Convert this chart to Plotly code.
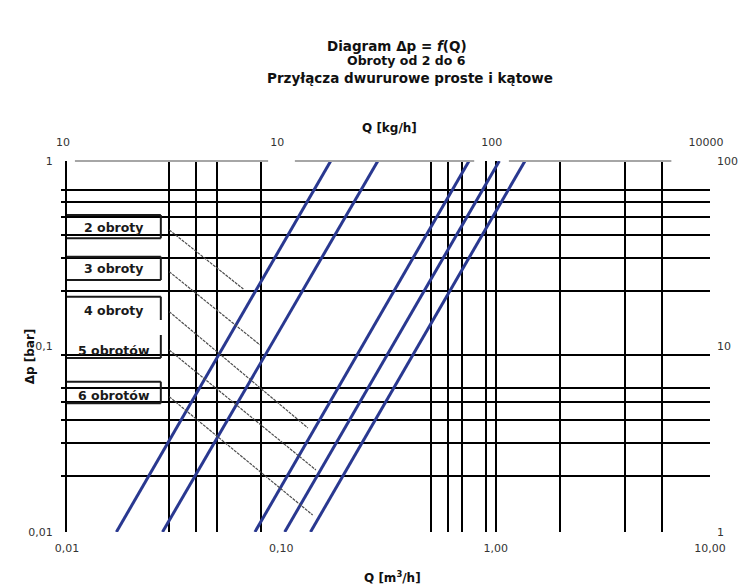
import plotly.graph_objects as go

# ---------------- data ----------------
# blue characteristic lines: flow at dp = 0.01 bar and at dp = 1 bar
dp_ends = [0.01, 1.0]
flow_low = [0.017, 0.0279, 0.0753, 0.1037, 0.1368]
flow_high = [0.170, 0.282, 0.751, 1.04, 1.37]

# thin guide lines for the number of turns (start/end flow, start/end dp)
turn_labels = ["2 obroty", "3 obroty", "4 obroty", "5 obrotów", "6 obrotów"]
guide_q_start = [0.03, 0.03, 0.03, 0.03, 0.03]
guide_q_end = [0.0665, 0.0795, 0.133, 0.145, 0.140]
guide_p_start = [0.425, 0.253, 0.154, 0.0957, 0.0536]
guide_p_end = [0.204, 0.102, 0.0364, 0.0216, 0.01235]

# grid lines
grid_q = [0.03, 0.04, 0.05, 0.08, 0.5, 0.6, 0.7, 0.9, 1.0, 2, 4, 6]
grid_p = [0.7, 0.6, 0.5, 0.4, 0.3, 0.2, 0.09, 0.06, 0.05, 0.04, 0.03, 0.02]

# tick labels
bottom_vals = [0.01, 0.1, 1, 10]
bottom_text = ["0,01", "0,10", "1,00", "10,00"]
top_text = ["10", "10", "100", "10000"]
left_vals = [1, 0.1, 0.01]
left_text = ["1", "0,1", "0,01"]
right_text = ["100", "10", "1"]

# ---------------- layout helpers ----------------
OFF = 8                      # page body margin of the html page
W, H = 750 - OFF, 588 - OFF
L, R, T, B = 67, 716, 161, 532   # plot area in window pixels
def fx(x):
    return (x - L) / (R - L)
def fy(y):
    return (B - y) / (B - T)

FONT = "DejaVu Sans"
BLUE = "#293890"

fig = go.Figure()

for ql, qh in zip(flow_low, flow_high):
    fig.add_trace(go.Scatter(x=[ql, qh], y=dp_ends, mode="lines",
                             line=dict(color=BLUE, width=3),
                             showlegend=False, hoverinfo="skip"))

for qs, qe, ps, pe in zip(guide_q_start, guide_q_end, guide_p_start, guide_p_end):
    fig.add_trace(go.Scatter(x=[qs, qe], y=[ps, pe], mode="lines",
                             line=dict(color="#4d4d4d", width=1.2, dash="3px,1px"),
                             showlegend=False, hoverinfo="skip"))

# invisible anchor trace for the secondary (top / right) axes
fig.add_trace(go.Scatter(x=[0.1], y=[0.1], xaxis="x2", yaxis="y2", mode="markers",
                         marker=dict(opacity=0), showlegend=False, hoverinfo="skip"))

shapes = []
# white boxes behind labels
for y0, y1 in [(215, 238.3), (256.7, 280), (296.7, 358), (381.7, 403.3)]:
    shapes.append(dict(type="rect", xref="paper", yref="paper",
                       x0=fx(68), x1=fx(161.7), y0=fy(y1), y1=fy(y0),
                       fillcolor="white", line=dict(width=0), layer="between"))

def seg(x0, y0, x1, y1, color="#1a1a1a", width=2, layer="above"):
    shapes.append(dict(type="line", xref="paper", yref="paper",
                       x0=fx(x0), y0=fy(y0), x1=fx(x1), y1=fy(y1),
                       line=dict(color=color, width=width), layer=layer))

bx = 161.7
for y0, y1 in [(215, 238.3), (256.7, 280), (381.7, 403.3)]:
    seg(L, y0, bx, y0)
    seg(bx, y0, bx, y1)
    seg(L, y1, bx, y1)
seg(L, 296.7, bx, 296.7)
seg(bx, 296.7, bx, 320)
seg(bx, 335, bx, 358)
seg(L, 358, bx, 358)

# grey top line with gaps
for x0, x1 in [(75, 270), (297, 478), (513, 677)]:
    seg(x0, T, x1, T, color="#a6a6a6", width=2)

annotations = []
for lab, yc in zip(turn_labels, [227, 268, 310, 350, 395]):
    annotations.append(dict(text="<b>%s</b>" % lab, xref="paper", yref="paper",
                            x=fx(114), y=fy(yc), showarrow=False,
                            xanchor="center", yanchor="middle",
                            font=dict(family=FONT, size=12.5, color="#1a1a1a")))

def txt(s, x, y, size, angle=0):
    annotations.append(dict(text=s, xref="paper", yref="paper", x=fx(x), y=fy(y),
                            showarrow=False, xanchor="center", yanchor="middle",
                            textangle=angle,
                            font=dict(family=FONT, size=size, color="#111111")))

txt("<b>Diagram Δp = <i>f</i>(Q)</b>", 400, 46, 13.5)
txt("<b>Obroty od 2 do 6</b>", 410, 61, 12.5)
txt("<b>Przyłącza dwururowe proste i kątowe</b>", 413, 78, 13.5)
txt("<b>Q [kg/h]</b>", 393, 128, 12)
txt("<b>Q [m<sup>3</sup>/h]</b>", 396, 577, 12)
txt("<b>Δp [bar]</b>", 30, 356, 12, angle=-90)

tickfont = dict(family=FONT, size=11, color="#333333")
fig.update_layout(
    width=W, height=H,
    margin=dict(l=L - OFF, r=W - (R - OFF), t=T - OFF, b=H - (B - OFF), pad=0),
    paper_bgcolor="white", plot_bgcolor="white",
    shapes=shapes, annotations=annotations,
    xaxis=dict(type="log", range=[-2, 1], tickmode="array",
               tickvals=bottom_vals, ticktext=bottom_text, ticks="",
               showgrid=False, showline=False, zeroline=False,
               ticklabelstandoff=8, tickfont=tickfont,
               minor=dict(tickmode="array", tickvals=grid_q, showgrid=True,
                          gridcolor="black", gridwidth=2, ticks="")),
    yaxis=dict(type="log", range=[-2, 0], tickmode="array",
               tickvals=left_vals, ticktext=left_text, ticks="",
               showgrid=False, showline=True, linecolor="black", linewidth=2,
               zeroline=False, ticklabelstandoff=10, tickfont=tickfont,
               minor=dict(tickmode="array", tickvals=grid_p, showgrid=True,
                          gridcolor="black", gridwidth=2, ticks="outside",
                          ticklen=4, tickcolor="black", tickwidth=1.5)),
    xaxis2=dict(type="log", range=[-2, 1], overlaying="x", side="top",
                anchor="y2", tickmode="array", tickvals=bottom_vals,
                ticktext=top_text, ticks="", showgrid=False, showline=False,
                zeroline=False, ticklabelstandoff=12, ticklabelshift=-4,
                tickfont=tickfont),
    yaxis2=dict(type="log", range=[-2, 0], overlaying="y", side="right",
                anchor="x2", tickmode="array", tickvals=left_vals,
                ticktext=right_text, ticks="", showgrid=False, showline=False,
                zeroline=False, ticklabelstandoff=6, tickfont=tickfont),
)

fig.write_html("out.html")
